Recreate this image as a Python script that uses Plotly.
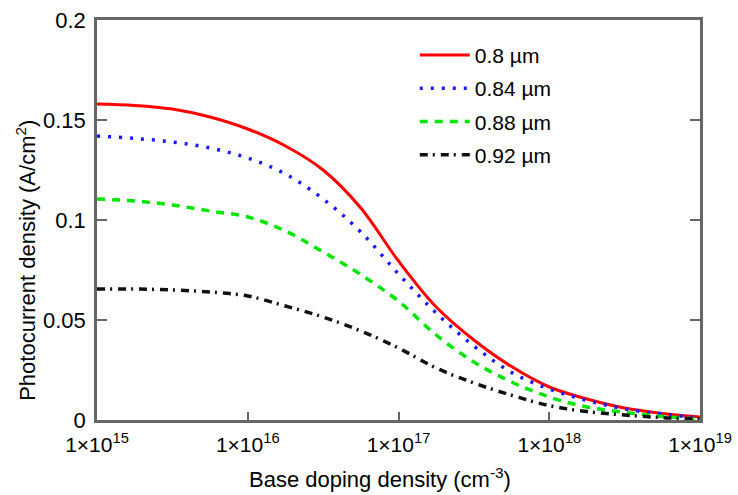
import plotly.graph_objects as go

log_doping = [15.0, 15.25, 15.5, 15.75, 16.0, 16.25, 16.5, 16.75, 17.0, 17.25, 17.5, 17.75, 18.0, 18.25, 18.5, 18.75, 19.0]
doping = [10 ** v for v in log_doping]

j_080 = [0.158, 0.1573, 0.1555, 0.1515, 0.1455, 0.137, 0.125, 0.106, 0.0795, 0.0565, 0.040, 0.0267, 0.0165, 0.0105, 0.006, 0.0033, 0.0015]
j_084 = [0.142, 0.1408, 0.139, 0.136, 0.131, 0.123, 0.1105, 0.094, 0.073, 0.0535, 0.037, 0.0238, 0.0155, 0.0098, 0.0055, 0.003, 0.001]
j_088 = [0.1105, 0.1095, 0.1075, 0.1045, 0.1015, 0.0945, 0.084, 0.0727, 0.0594, 0.0425, 0.029, 0.019, 0.0115, 0.0065, 0.0038, 0.0018, 0.0005]
j_092 = [0.0655, 0.0655, 0.065, 0.064, 0.062, 0.057, 0.0515, 0.0445, 0.036, 0.026, 0.0185, 0.0124, 0.0072, 0.0042, 0.0025, 0.0012, 0.0005]

names = ["0.8 µm", "0.84 µm", "0.88 µm", "0.92 µm"]
colors = ["#ff0000", "#1a1aff", "#00e600", "#111111"]
dashes = ["solid", "3px,8px", "8px,7px", "8px,5px,2px,6px"]
widths = [3, 3.5, 3.5, 3.5]

x_tickvals = [1e15, 1e16, 1e17, 1e18, 1e19]
x_ticktext = ["1×10<sup>15</sup>", "1×10<sup>16</sup>", "1×10<sup>17</sup>", "1×10<sup>18</sup>", "1×10<sup>19</sup>"]
y_tickvals = [0, 0.05, 0.1, 0.15, 0.2]
y_ticktext = ["0", "0.05", "0.1", "0.15", "0.2"]

x_title = "Base doping density (cm<sup>-3</sup>)"
y_title = "Photocurrent density (A/cm<sup>2</sup>)"

fig = go.Figure()
for i, ys in enumerate([j_080, j_084, j_088, j_092]):
    fig.add_trace(go.Scatter(
        x=doping, y=ys, mode="lines", name=names[i], legendgroup=f"g{i}",
        line=dict(color=colors[i], dash=dashes[i], width=widths[i], shape="spline"),
    ))

font = "Liberation Sans, Arial, sans-serif"
axis_common = dict(showgrid=False, zeroline=False, showline=True, linecolor="#666",
                   linewidth=2.5, ticks="inside", tickcolor="#666", tickwidth=2)
fig.update_layout(
    width=738, height=495,
    margin=dict(l=97, r=38, t=20, b=75, autoexpand=False),
    plot_bgcolor="white", paper_bgcolor="white",
    font=dict(family=font, color="black", size=21),
    showlegend=True,
    legend=dict(x=0.527, y=0.963, xanchor="left", yanchor="top",
                font=dict(size=21), bgcolor="rgba(0,0,0,0)",
                tracegroupgap=3, itemwidth=50),
    xaxis=dict(type="log", range=[15, 19], tickvals=x_tickvals, ticktext=x_ticktext,
               mirror=True, ticklen=8, tickfont=dict(size=21), ticklabelstandoff=4,
               **axis_common),
    yaxis=dict(range=[0, 0.2], tickvals=y_tickvals, ticktext=y_ticktext,
               mirror="ticks", ticklen=10, tickfont=dict(size=22), ticklabelstandoff=4,
               **axis_common),
    annotations=[
        dict(text=x_title, xref="paper", yref="paper", x=0.469, y=-0.145,
             xanchor="center", yanchor="middle", showarrow=False, font=dict(size=22)),
        dict(text=y_title, xref="paper", yref="paper", x=-0.118, y=0.40,
             xanchor="center", yanchor="middle", showarrow=False, textangle=-90,
             font=dict(size=22)),
    ],
)

fig.write_html("out.html", config={"displayModeBar": False},
               post_script="document.body.style.margin='0';")
